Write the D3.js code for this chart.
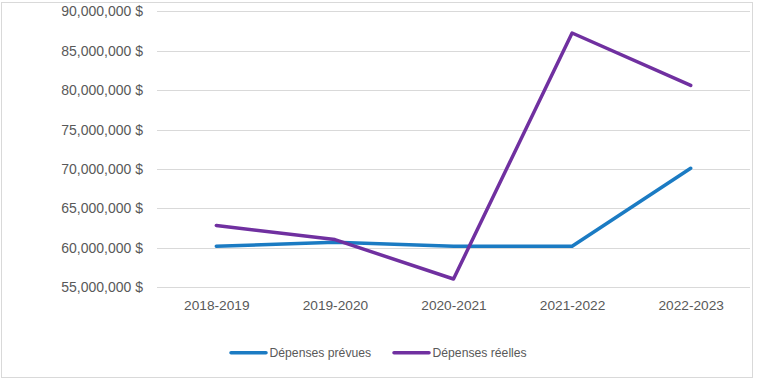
<!DOCTYPE html>
<html><head><meta charset="utf-8">
<script src="https://cdn.jsdelivr.net/npm/d3@7/dist/d3.min.js"></script>
<style>
body{margin:0;background:#fff;}
svg{display:block;}
text{font-family:"Liberation Sans",Arial,sans-serif;fill:#595959;}
</style></head>
<body>
<svg id="c" width="762" height="381"></svg>
<script>
const categories = ["2018-2019","2019-2020","2020-2021","2021-2022","2022-2023"];
const seriesNames = ["Dépenses prévues","Dépenses réelles"];
const prevues = [60200000, 60700000, 60200000, 60200000, 70100000];
const reelles = [62850000, 61050000, 56050000, 87250000, 80600000];
const yTicks = [55000000,60000000,65000000,70000000,75000000,80000000,85000000,90000000];
const colors = ["#1b7bc3","#7030a0"];

const svg = d3.select("#c");
const m = {left:157, right:750, top:11.3, bottom:287.3};

svg.append("rect").attr("x",1.5).attr("y",2.5).attr("width",751).attr("height",375)
  .attr("fill","#fff").attr("stroke","#d9d9d9").attr("stroke-width",1);

const x = d3.scalePoint().domain(categories).range([m.left, m.right]).padding(0.5);
const y = d3.scaleLinear().domain([55000000, 90000000]).range([m.bottom, m.top]);

const fmt = v => d3.format(",")(v) + " $";

// gridlines
svg.append("g").selectAll("line").data(yTicks).join("line")
  .attr("x1", m.left).attr("x2", m.right)
  .attr("y1", d => Math.round(y(d))+0.5).attr("y2", d => Math.round(y(d))+0.5)
  .attr("stroke","#d9d9d9").attr("stroke-width",1);

// y labels
const yAxis = d3.axisLeft(y).tickValues(yTicks).tickFormat(fmt).tickSize(0).tickPadding(0);
const gy = svg.append("g").attr("transform",`translate(143,0)`).call(yAxis);
gy.select(".domain").remove();
gy.selectAll("text").attr("font-size","14px").attr("fill","#595959")
  .style("font-family","'Liberation Sans',Arial,sans-serif");

// x labels
const xAxis = d3.axisBottom(x).tickSize(0).tickPadding(0);
const gx = svg.append("g").attr("transform",`translate(0,${m.bottom+13})`).call(xAxis);
gx.select(".domain").remove();
gx.selectAll("text").attr("font-size","13.7px").attr("fill","#595959")
  .style("font-family","'Liberation Sans',Arial,sans-serif");

// lines
const line = d3.line().x((d,i)=>x(categories[i])).y(d=>y(d));
[prevues, reelles].forEach((s,k)=>{
  svg.append("path").datum(s).attr("d", line).attr("fill","none")
    .attr("stroke", colors[k]).attr("stroke-width",3.5)
    .attr("stroke-linejoin","round").attr("stroke-linecap","round");
});

// legend
const legendX = [231, 394];
seriesNames.forEach((n,k)=>{
  const g = svg.append("g").attr("transform",`translate(${legendX[k]},352.7)`);
  g.append("line").attr("x1",0).attr("x2",35).attr("y1",0).attr("y2",0)
    .attr("stroke",colors[k]).attr("stroke-width",3.5).attr("stroke-linecap","round");
  g.append("text").attr("x",38.5).attr("y",0).attr("dy","0.35em")
    .attr("font-size","12.2px").text(n);
});
</script>
</body></html>
